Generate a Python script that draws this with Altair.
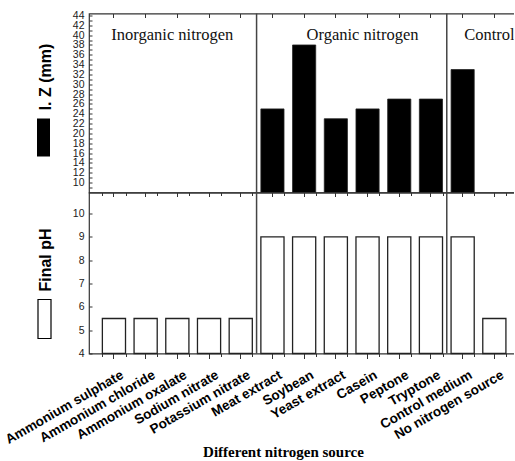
import altair as alt
import pandas as pd

categories = ["Ammonium sulphate", "Ammonium chloride", "Ammonium oxalate", "Sodium nitrate",
              "Potassium nitrate", "Meat extract", "Soybean", "Yeast extract", "Casein",
              "Peptone", "Tryptone", "Control medium", "No nitrogen source"]
iz_mm = [None, None, None, None, None, 25, 38, 23, 25, 27, 27, 33, None]
final_ph = [5.5, 5.5, 5.5, 5.5, 5.5, 9, 9, 9, 9, 9, 9, 9, 5.5]
group_names = ["Inorganic nitrogen", "Organic nitrogen", "Control"]
group_anchor = ["Ammonium oxalate", "Casein", "No nitrogen source"]
group_start = ["Meat extract", "Control medium"]
iz_tick_values = [9, 10, 11, 12, 13, 14, 15, 16, 17, 18, 19, 20, 21, 22, 23, 24, 25, 26, 27, 28,
                  29, 30, 31, 32, 33, 34, 35, 36, 37, 38, 39, 40, 41, 42, 43, 44]
ph_tick_values = [4, 4.5, 5, 5.5, 6, 6.5, 7, 7.5, 8, 8.5, 9, 9.5, 10, 10.5]
series_names = ["I. Z (mm)", "Final pH"]

df = pd.DataFrame({"source": categories, "iz": iz_mm, "ph": final_ph})
sep_df = pd.DataFrame({"source": group_start})
grp_df = pd.DataFrame({"label": group_names, "source": group_anchor})

W = 431
xscale = alt.Scale(domain=categories, paddingInner=0.27, paddingOuter=0.433, align=0.487)
LBL = "Liberation Sans"
TC = "#333"


def yaxis(values, title, ty, label_expr):
    return alt.Axis(values=values, tickCount=100, title=title, labelExpr=label_expr, format="d",
                    labelFont=LBL, labelFontSize=10.5, labelColor="#222",
                    labelOverlap=False, labelFlush=False, labelPadding=8,
                    tickSize=alt.ExprRef("-3"), tickColor=TC,
                    domain=False, grid=False, titleFont=LBL, titleFontSize=16, titleFontWeight="bold",
                    titleColor="black", titleAngle=-90, titleX=-44, titleY=ty,
                    titleBaseline="middle", titleAlign="center")


def minor_axis(orient, size):
    # ticks between the categories (no labels)
    return alt.Axis(orient=orient, labels=False, title=None, domain=False, tickBand="extent",
                    tickSize=size, tickColor=TC)


def center_axis(orient, size):
    return alt.Axis(orient=orient, labels=False, title=None, domain=False, tickSize=size,
                    tickColor=TC)


# ---------- top panel ----------
top_bars = alt.Chart(df).mark_bar(color="black", stroke="#222", strokeWidth=0.8).encode(
    x=alt.X("source:N", scale=xscale, sort=categories, axis=center_axis("bottom", 4)),
    y=alt.Y("iz:Q", scale=alt.Scale(domain=[8, 44.4], nice=False, zero=False),
            axis=yaxis(iz_tick_values, series_names[0], 63,
                       "datum.value % 2 == 0 ? datum.label : ''")),
    y2=alt.datum(8),
)
top_sep = alt.Chart(sep_df).mark_rule(color="#444", strokeWidth=1.5, xOffset=-4.3).encode(
    x=alt.X("source:N", scale=xscale, bandPosition=0, axis=minor_axis("bottom", 3)))
top_txt = alt.Chart(grp_df).mark_text(font="Liberation Serif", fontSize=16.5, color="#111",
                                      baseline="middle", dx=-5).encode(
    x=alt.X("source:N", scale=xscale, axis=alt.Axis(orient="top", labels=False, title=None,
                                                     domain=False, tickSize=alt.ExprRef("-4"),
                                                     tickColor=TC)),
    y=alt.datum(40), text="label:N")
top_key = alt.Chart(alt.Data(values=[{"s": series_names[0]}])).mark_rect(color="black").encode(
    x=alt.value(-52), x2=alt.value(-39), y=alt.value(105), y2=alt.value(143))
top = alt.layer(top_bars, top_sep, top_txt, top_key).resolve_axis(x="independent").properties(
    width=W, height=179)

# ---------- bottom panel ----------
bot_bars = alt.Chart(df).mark_bar(fill="white", stroke="#222", strokeWidth=1.3).encode(
    x=alt.X("source:N", scale=xscale, sort=categories,
            axis=alt.Axis(orient="bottom", title="Different nitrogen source", labelAngle=-30,
                          labelAlign="right", labelBaseline="top", labelFont=LBL,
                          labelFontWeight="bold", labelFontSize=13.5, labelColor="black",
                          labelPadding=9, labelOffset=5, labelOverlap=False, labelLimit=300,
                          domain=False, tickSize=5, tickColor=TC,
                          titleFont="Liberation Serif", titleFontSize=15, titleFontWeight="bold",
                          titleColor="black", titleX=194, titleY=103, titleBaseline="alphabetic",
                          titleAlign="center")),
    y=alt.Y("ph:Q", scale=alt.Scale(domain=[4, 10.9], nice=False, zero=False),
            axis=yaxis(ph_tick_values, series_names[1], 67,
                       "datum.value % 1 == 0 ? datum.label : ''")),
    y2=alt.datum(4),
)
bot_sep = alt.Chart(sep_df).mark_rule(color="#444", strokeWidth=1.5, xOffset=-4.3).encode(
    x=alt.X("source:N", scale=xscale, bandPosition=0, axis=minor_axis("bottom", 3)))
bot_key = alt.Chart(alt.Data(values=[{"s": series_names[1]}])).mark_rect(
    fill="white", stroke="black", strokeWidth=1.2).encode(
    x=alt.value(-51), x2=alt.value(-38), y=alt.value(107), y2=alt.value(146))
bottom = alt.layer(bot_bars, bot_sep, bot_key).resolve_axis(x="independent").properties(
    width=W, height=161)

chart = alt.vconcat(top, bottom, spacing=0, bounds="flush").configure_view(
    stroke="#333", strokeWidth=1.2).properties(
    padding={"left": 2, "top": 9.5, "right": -7, "bottom": 0}, background="white")

chart.save("out.html", embed_options={"renderer": "svg", "actions": False})
